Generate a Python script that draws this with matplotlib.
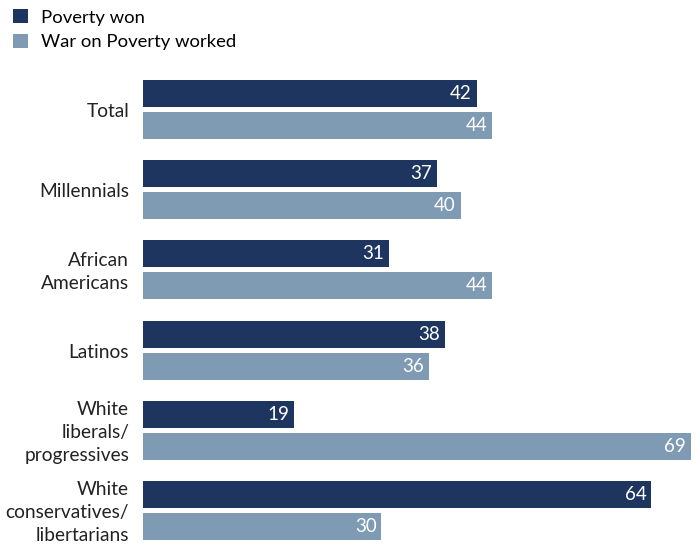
import matplotlib.pyplot as plt
import numpy as np

categories = ["Total", "Millennials", "African\nAmericans", "Latinos",
              "White\nliberals/\nprogressives", "White\nconservatives/\nlibertarians"]
poverty_won = [42, 37, 31, 38, 19, 64]
war_worked = [44, 40, 44, 36, 69, 30]
series_names = ["Poverty won", "War on Poverty worked"]

dark = "#1e3560"
light = "#7f9ab3"

plt.rcParams['font.family'] = ['Lato', 'DejaVu Sans']

W, H = 697, 546
fig = plt.figure(figsize=(W / 100, H / 100), dpi=100)
ax = fig.add_axes([143 / W, 1 - 540 / H, (691 - 143) / W, 460 / H])

y = np.arange(len(categories))
h = 0.3375
b1 = ax.barh(y - 0.2, poverty_won, height=h, color=dark, label=series_names[0])
b2 = ax.barh(y + 0.2, war_worked, height=h, color=light, label=series_names[1])

ax.set_xlim(0, 69)
ax.set_ylim(5.2 + h / 2, -0.2 - h / 2)
ax.axis('off')

for bars, vals in [(b1, poverty_won), (b2, war_worked)]:
    for bar, v in zip(bars, vals):
        ax.text(v - 0.6, bar.get_y() + bar.get_height() / 2, str(v),
                ha='right', va='center', color='white', fontsize=13.5)

for yi, cat in zip(y, categories):
    ax.annotate(cat, xy=(0, yi), xytext=(-10, -1.5), textcoords='offset points',
                ha='right', va='center', fontsize=13.8, color='#222222',
                linespacing=1.42, annotation_clip=False)

fig.legend(handles=[b1, b2], loc='upper left', bbox_to_anchor=(0.0, 1.007),
           frameon=False, fontsize=13.3, handlelength=0.8, handleheight=0.8,
           handletextpad=0.7, labelspacing=0.45, borderaxespad=0.3)

fig.savefig("out.png", dpi=100)
